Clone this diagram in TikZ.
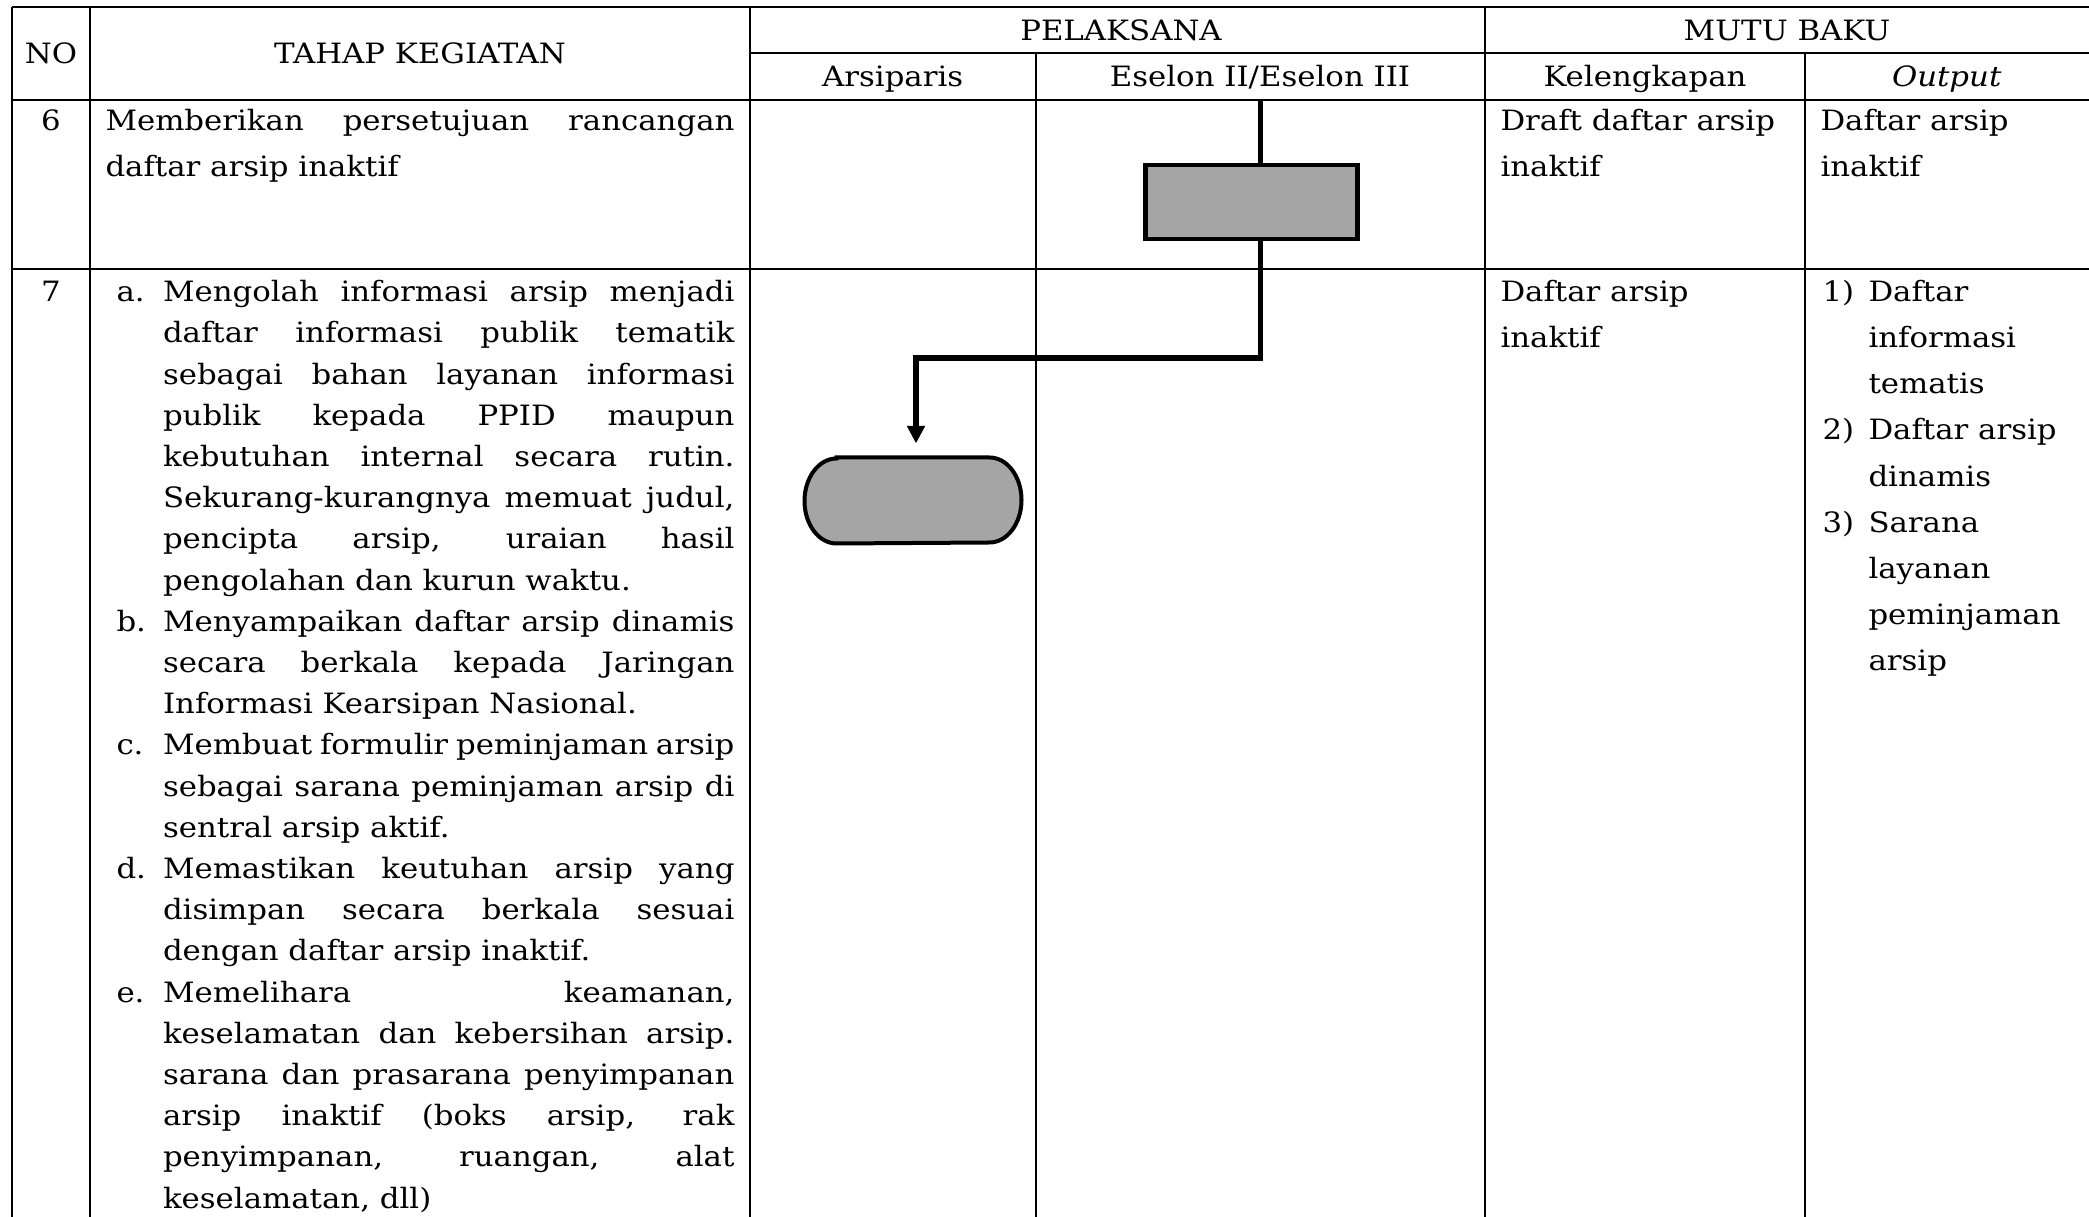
\documentclass[tikz,border=0pt]{standalone}
\usepackage{fontspec}
\setmainfont{DejaVu Serif}[FakeStretch=1.1]
\usetikzlibrary{arrows.meta}
\definecolor{boxgray}{HTML}{A5A5A5}

% justified line: name, x, baseline, width, text
\newcommand\JL[5]{\node[txt] (#1) at (#2,-#3) {\makebox[#4][s]{#5}};}
% ragged line: name, x, baseline, text
\newcommand\RL[4]{\node[txt] (#1) at (#2,-#3) {#4};}

\begin{document}
\begin{tikzpicture}[x=0.4pt,y=0.4pt,
  grid/.style={line width=0.8pt},
  txt/.style={inner sep=0pt,font=\fontsize{11.2}{13}\selectfont,anchor=base west},
  ctr/.style={txt,anchor=base},
  proc/.style={draw,line width=1.9pt,fill=boxgray,minimum width=84.8pt,minimum height=29.6pt,inner sep=0pt},
  termbox/.style={inner sep=0pt,minimum width=86.4pt,minimum height=34pt},
  termline/.style={draw,line width=1.6pt,fill=boxgray},
  flow/.style={line width=2.1pt}]

\useasboundingbox (0,0) rectangle (2089,-1217);
\clip (0,0) rectangle (2089,-1217);

% table rules
\draw[grid] (12,-7.5) -- (2089,-7.5);
\draw[grid] (750,-53.3) -- (2089,-53.3);
\draw[grid] (12,-100.5) -- (2089,-100.5);
\draw[grid] (12,-269) -- (2089,-269);
\draw[grid] (12,-7.5) -- (12,-1217);
\draw[grid] (90,-7.5) -- (90,-1217);
\draw[grid] (750,-7.5) -- (750,-1217);
\draw[grid] (1035.5,-53.3) -- (1035.5,-1217);
\draw[grid] (1485,-7.5) -- (1485,-1217);
\draw[grid] (1804.5,-53.3) -- (1804.5,-1217);

% header
\node[ctr] (hNo) at (51,-64) {NO};
\node[ctr] (hTahap) at (420,-64) {TAHAP KEGIATAN};
\node[ctr] (hPel) at (1121,-40.6) {PELAKSANA};
\node[ctr] (hMutu) at (1787,-40.6) {MUTU BAKU};
\node[ctr] (hArs) at (892.7,-87) {Arsiparis};
\node[ctr] (hEsl) at (1260,-87) {Eselon II/Eselon III};
\node[ctr] (hKel) at (1645,-87) {Kelengkapan};
\node[ctr] (hOut) at (1946.7,-87) {\itshape Output};

% row 6
\node[ctr] (no6) at (51,-130.5) {6};
\JL{s6a}{105}{130.5}{251.6pt}{Memberikan persetujuan rancangan}
\RL{s6b}{105}{176.5}{daftar arsip inaktif}
\RL{k6a}{1500}{130.5}{Draft daftar arsip}
\RL{k6b}{1500}{176.5}{inaktif}
\RL{o6a}{1820}{130.5}{Daftar arsip}
\RL{o6b}{1820}{176.5}{inaktif}

% row 7
\node[ctr] (no7) at (51,-301.7) {7};
\RL{ia}{116}{301.7}{a.}
\RL{ib}{116}{631.3}{b.}
\RL{ic}{116}{754.9}{c.}
\RL{id}{116}{878.5}{d.}
\RL{ie}{116}{1002.1}{e.}
\JL{l0}{162.5}{301.7}{228.6pt}{Mengolah informasi arsip menjadi}
\JL{l1}{162.5}{342.9}{228.6pt}{daftar informasi publik tematik}
\JL{l2}{162.5}{384.1}{228.6pt}{sebagai bahan layanan informasi}
\JL{l3}{162.5}{425.3}{228.6pt}{publik kepada PPID maupun}
\JL{l4}{162.5}{466.5}{228.6pt}{kebutuhan internal secara rutin.}
\JL{l5}{162.5}{507.7}{228.6pt}{Sekurang-kurangnya memuat judul,}
\JL{l6}{162.5}{548.9}{228.6pt}{pencipta arsip, uraian hasil}
\RL{l7}{162.5}{590.1}{pengolahan dan kurun waktu.}
\JL{l8}{162.5}{631.3}{228.6pt}{Menyampaikan daftar arsip dinamis}
\JL{l9}{162.5}{672.5}{228.6pt}{secara berkala kepada Jaringan}
\RL{l10}{162.5}{713.7}{Informasi Kearsipan Nasional.}
\JL{l11}{162.5}{754.9}{228.6pt}{Membuat formulir peminjaman arsip}
\JL{l12}{162.5}{796.1}{228.6pt}{sebagai sarana peminjaman arsip di}
\RL{l13}{162.5}{837.3}{sentral arsip aktif.}
\JL{l14}{162.5}{878.5}{228.6pt}{Memastikan keutuhan arsip yang}
\JL{l15}{162.5}{919.7}{228.6pt}{disimpan secara berkala sesuai}
\RL{l16}{162.5}{960.9}{dengan daftar arsip inaktif.}
\JL{l17}{162.5}{1002.1}{228.6pt}{Memelihara keamanan,}
\JL{l18}{162.5}{1043.3}{228.6pt}{keselamatan dan kebersihan arsip.}
\JL{l19}{162.5}{1084.5}{228.6pt}{sarana dan prasarana penyimpanan}
\JL{l20}{162.5}{1125.7}{228.6pt}{arsip inaktif (boks arsip, rak}
\JL{l21}{162.5}{1166.9}{228.6pt}{penyimpanan, ruangan, alat}
\RL{l22}{162.5}{1208.1}{keselamatan, dll)}

\RL{k7a}{1500}{301.7}{Daftar arsip}
\RL{k7b}{1500}{347.8}{inaktif}

\RL{n1}{1822}{301.7}{1)}
\RL{n2}{1822}{440}{2)}
\RL{n3}{1822}{532.2}{3)}
\RL{o7a}{1868}{301.7}{Daftar}
\RL{o7b}{1868}{347.8}{informasi}
\RL{o7c}{1868}{393.9}{tematis}
\RL{o7d}{1868}{440}{Daftar arsip}
\RL{o7e}{1868}{486.1}{dinamis}
\RL{o7f}{1868}{532.2}{Sarana}
\RL{o7g}{1868}{578.3}{layanan}
\RL{o7h}{1868}{624.4}{peminjaman}
\RL{o7i}{1868}{670.5}{arsip}

% flow symbols
\coordinate (r6top) at (1260.5,-100.5);
\coordinate (elbow) at (916,-358);
\node[proc] (r6) at (1251.7,-202) {};
\node[termbox] (t7) at (913,-500.5) {};
\draw[termline] ([xshift=12.8pt]t7.north west) -- ([xshift=-12.8pt]t7.north east)
  arc[start angle=90,end angle=-90,x radius=12.8pt,y radius=17pt]
  -- ([xshift=12.8pt]t7.south west)
  arc[start angle=270,end angle=90,x radius=12.8pt,y radius=17pt] -- cycle;

\draw[flow] (r6top) -- (r6top |- r6.north);
\draw[flow,-{Triangle[width=6.8pt,length=7pt]}] (r6.south -| r6top) |- (elbow)
  -- ([yshift=5.6pt]elbow |- t7.north);
\end{tikzpicture}
\end{document}
